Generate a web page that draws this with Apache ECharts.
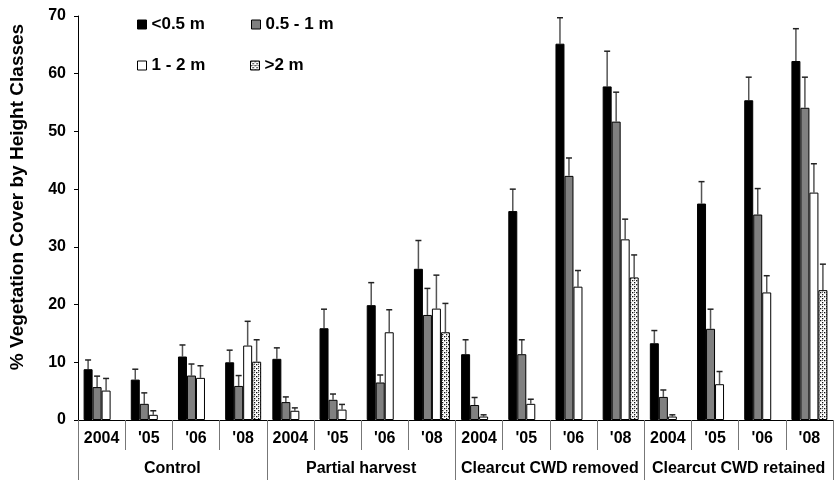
<!DOCTYPE html>
<html><head><meta charset="utf-8">
<script src="https://cdn.jsdelivr.net/npm/echarts@6/dist/echarts.min.js"></script>
<style>html,body{margin:0;padding:0;background:#fff}#c{width:834px;height:483px}</style>
</head><body><div id="c"></div>
<script>
const categories = ['2004',"'05","'06","'08",'2004',"'05","'06","'08",'2004',"'05","'06","'08",'2004',"'05","'06","'08"];
const groups = ['Control','Partial harvest','Clearcut CWD removed','Clearcut CWD retained'];
const seriesNames = ['<0.5 m','0.5 - 1 m','1 - 2 m','>2 m'];
const below05 = [8.8,7.0,11.0,10.0, 10.6,15.9,19.9,26.2, 11.4,36.2,65.2,57.8, 13.3,37.5,55.4,62.2];
const below05Err = [1.6,1.8,2.0,2.1, 1.9,3.3,3.9,4.9, 2.5,3.8,4.5,6.1, 2.2,3.8,4.0,5.6];
const from05to1 = [5.7,2.8,7.7,5.9, 3.1,3.5,6.5,18.2, 2.6,11.4,42.3,51.7, 4.0,15.8,35.6,54.1];
const from05to1Err = [1.9,1.9,2.0,1.8, 0.9,1.0,1.3,4.6, 1.3,2.5,3.1,5.1, 1.2,3.4,4.5,5.3];
const from1to2 = [5.1,0.9,7.3,12.9, 1.6,1.8,15.2,19.3, 0.6,2.8,23.1,31.3, 0.6,6.2,22.1,39.4];
const from1to2Err = [2.1,0.7,2.1,4.2, 0.5,0.9,3.9,5.8, 0.3,0.8,2.8,3.5, 0.3,2.2,2.9,5.0];
const above2 = [null,null,null,10.1, null,null,null,15.2, null,null,null,24.7, null,null,null,22.5];
const above2Err = [null,null,null,3.8, null,null,null,5.0, null,null,null,3.9, null,null,null,4.5];
const yTicks = {min:0, max:70, interval:10};

const FONT = "'Liberation Sans', Arial, sans-serif";
const BW = 9;

// stipple pattern
const pc = document.createElement('canvas');
pc.width = 4; pc.height = 4;
const px = pc.getContext('2d');
px.fillStyle = '#fff'; px.fillRect(0,0,4,4);
px.fillStyle = '#111';
px.fillRect(0,0,1.3,1.3); px.fillRect(2,2,1.3,1.3); px.fillRect(2,0,0.8,0.8);
const dotPattern = {image: pc, repeat: 'repeat'};

const fills = ['#000000','#808080','#ffffff',dotPattern];
const vals = [below05, from05to1, from1to2, above2];
const errs = [below05Err, from05to1Err, from1to2Err, above2Err];

const series = [];
vals.forEach((v,i)=>{
  series.push({
    name: seriesNames[i], type:'bar', data: v, barWidth: BW, barGap:'0%',
    itemStyle:{color: fills[i], borderColor:'#000', borderWidth:1},
    silent:true, animation:false
  });
});
vals.forEach((v,i)=>{
  const d = [];
  v.forEach((val,k)=>{ if(val!=null) d.push([k,val,errs[i][k]]); });
  series.push({
    type:'custom', silent:true, animation:false, z:1,
    data:d, encode:{x:0,y:1},
    renderItem:function(params, api){
      const k = api.value(0), val = api.value(1), e = api.value(2);
      const p0 = api.coord([k,val]);
      const p1 = api.coord([k,val+e]);
      const x = p0[0] + (i-1.5)*BW;
      return {type:'group', children:[
        {type:'line', shape:{x1:x,y1:p0[1],x2:x,y2:p1[1]}, style:{stroke:'#555',lineWidth:1.5}},
        {type:'line', shape:{x1:x-3,y1:p1[1],x2:x+3,y2:p1[1]}, style:{stroke:'#222',lineWidth:1.5}}
      ]};
    }
  });
});

const legendBase = {
  itemWidth:9, itemHeight:9, icon:'rect', itemGap:4,
  itemStyle:{borderColor:'#000', borderWidth:1},
  textStyle:{fontFamily:FONT, fontWeight:'bold', fontSize:17, color:'#000', padding:[0,0,0,0]}
};
const legendPos = [[132,11],[246,11],[132,52],[245,52]];

const chart = echarts.init(document.getElementById('c'));
chart.setOption({
  animation:false,
  textStyle:{fontFamily:FONT},
  grid:{left:78, right:1, top:16, bottom:63, containLabel:false},
  legend: seriesNames.map((n,i)=>Object.assign({}, legendBase, {left:legendPos[i][0], top:legendPos[i][1], data:[n]})),
  xAxis:[
    {type:'category', data:categories, position:'bottom',
     axisLine:{lineStyle:{color:'#000',width:1}},
     axisTick:{show:true, interval:0, length:30, lineStyle:{color:'#777',width:1}},
     axisLabel:{interval:0, margin:11, fontFamily:FONT, fontWeight:'bold', fontSize:16, color:'#000'}},
    {type:'category', data:groups, position:'bottom', gridIndex:0,
     axisLine:{show:false},
     axisTick:{show:true, interval:0, length:60, lineStyle:{color:'#777',width:1}},
     axisLabel:{interval:0, margin:41, fontFamily:FONT, fontWeight:'bold', fontSize:16, color:'#000'}}
  ],
  yAxis:{type:'value', min:yTicks.min, max:yTicks.max, interval:yTicks.interval,
    name:'% Vegetation Cover by Height Classes', nameLocation:'middle', nameGap:51,
    nameTextStyle:{fontFamily:FONT, fontWeight:'bold', fontSize:19, color:'#000', padding:[0,0,0,42]},
    axisLine:{show:true, lineStyle:{color:'#000',width:1}},
    axisTick:{show:true, length:4, lineStyle:{color:'#000'}},
    splitLine:{show:false},
    axisLabel:{margin:12, fontFamily:FONT, fontWeight:'bold', fontSize:16, color:'#000'}},
  series: series
});
</script></body></html>
